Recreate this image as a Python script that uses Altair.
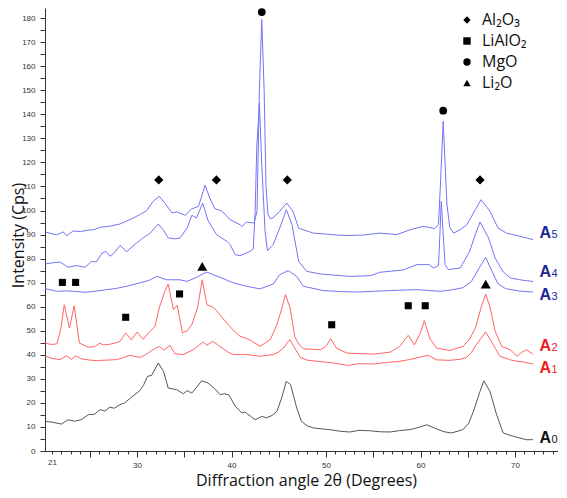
import altair as alt
import pandas as pd

# ---------------- data ----------------
A0_x = [20.3, 21.0, 22.0, 22.7, 23.4, 24.1, 24.85, 25.5, 26.1, 26.6, 27.1, 27.6, 28.2, 28.7, 29.3, 30.3, 30.7,
        31.1, 31.55, 32.25, 32.8, 33.3, 33.8, 34.2, 34.9, 35.3, 35.8, 36.3, 36.85, 37.5, 38.2, 38.8, 39.2, 39.7,
        40.4, 41.1, 41.4, 42.0, 42.5, 43.2, 43.7, 44.3, 44.8, 45.3, 45.8, 46.25, 46.9, 47.4, 48.0, 48.65, 49.5,
        50.4, 51.5, 52.5, 53.5, 54.7, 55.7, 56.8, 57.8, 58.9, 59.8, 60.65, 61.7, 62.5, 63.3, 64.5, 65.1, 65.6,
        66.3, 66.7, 67.35, 68.05, 68.75, 69.5, 70.2, 71.2, 71.9]
A0_y = [12.3, 12.0, 11.2, 13.0, 12.4, 13.0, 15.1, 15.3, 17.2, 16.6, 18.2, 17.8, 19.3, 20.0, 22.0, 25.1, 27.5,
        31.0, 31.5, 36.6, 33.1, 26.2, 25.8, 25.5, 23.8, 25.1, 24.1, 26.5, 29.2, 28.3, 26.0, 23.4, 23.8, 23.4,
        18.6, 15.8, 16.2, 14.5, 13.0, 14.4, 13.8, 14.8, 16.5, 22.0, 29.0, 27.6, 17.9, 12.3, 10.5, 9.6, 9.2,
        8.9, 8.2, 7.9, 8.6, 8.4, 8.0, 7.9, 8.5, 8.9, 9.8, 10.9, 9.2, 8.0, 7.5, 8.9, 11.5, 16.5,
        24.8, 29.2, 24.8, 15.1, 7.5, 6.5, 5.7, 4.7, 4.7]

A1_x = [20.3, 20.9, 21.85, 22.55, 23.1, 23.45, 24.15, 25.0, 25.7, 26.8, 27.85, 28.6, 29.25, 30.3, 30.9, 31.4,
        32.0, 32.4, 32.8, 33.5, 34.0, 34.9, 35.95, 36.5, 37.0, 37.4, 38.0, 38.5, 39.0, 39.6, 40.2, 41.6, 43.0,
        44.4, 45.0, 45.5, 46.15, 46.7, 47.25, 48.0, 49.0, 50.8, 51.6, 52.4, 53.5, 55.0, 56.5, 57.8, 58.8, 59.6,
        60.8, 61.7, 63.1, 64.3, 64.9, 65.4, 65.9, 66.9, 67.7, 68.4, 69.5, 70.2, 70.9, 71.9]
A1_y = [39.4, 38.6, 38.0, 39.6, 38.0, 39.6, 38.3, 37.8, 37.6, 37.8, 38.0, 38.9, 39.8, 38.9, 40.0, 41.4,
        42.8, 43.5, 41.9, 43.9, 40.5, 40.1, 42.1, 43.8, 45.3, 44.0, 45.6, 44.3, 42.8, 41.2, 40.1, 40.1, 39.4,
        40.1, 41.2, 42.8, 46.3, 42.8, 39.0, 37.8, 37.3, 36.6, 36.0, 35.6, 36.3, 36.2, 36.8, 37.3, 38.0, 38.7,
        39.8, 37.9, 37.7, 38.2, 39.0, 41.0, 44.2, 49.5, 44.2, 39.4, 37.9, 37.3, 37.0, 36.2]

A2_x = [20.3, 20.9, 21.5, 21.9, 22.3, 22.85, 23.35, 23.9, 24.85, 25.5, 26.1, 26.4, 27.0, 27.7, 28.2, 28.8, 29.4,
        30.0, 30.65, 31.3, 31.9, 32.35, 32.9, 33.3, 33.85, 34.25, 34.8, 35.3, 35.8, 36.4, 36.9, 37.4, 38.1,
        38.8, 39.5, 40.2, 40.9, 41.95, 43.0, 44.1, 44.8, 45.3, 45.7, 46.2, 46.7, 47.1, 47.6, 49.4, 50.0, 50.5,
        51.1, 52.2, 53.5, 55.0, 56.8, 57.8, 58.7, 59.35, 60.0, 60.4, 61.0, 61.7, 63.1, 64.5, 65.2, 65.8, 66.5,
        66.9, 67.35, 67.9, 68.6, 69.5, 70.2, 70.7, 71.2, 71.9]
A2_y = [44.9, 44.3, 44.5, 50.0, 60.8, 51.1, 60.4, 44.9, 43.1, 43.4, 44.9, 44.1, 44.3, 44.9, 45.6, 49.1, 46.2,
        49.5, 46.4, 49.5, 51.8, 59.5, 66.0, 69.4, 58.8, 60.6, 49.1, 50.0, 52.5, 59.5, 71.2, 60.8, 59.7,
        56.5, 53.2, 50.2, 47.7, 46.2, 43.5, 46.3, 52.5, 59.0, 65.0, 59.5, 47.5, 44.5, 42.5, 42.1, 43.5, 46.7,
        42.8, 40.7, 40.5, 40.3, 41.1, 43.5, 48.1, 44.1, 49.1, 54.2, 46.7, 42.8, 41.8, 43.5, 46.5, 51.1, 60.8,
        65.3, 59.9, 49.8, 43.5, 42.1, 39.4, 41.0, 42.1, 40.3]

A3_x = [20.3, 21.5, 22.5, 23.25, 24.5, 25.5, 26.8, 27.8, 28.9, 30.3, 31.3, 32.1, 33.1, 34.55, 35.3, 36.3, 36.9,
        37.4, 38.1, 38.8, 40.2, 41.6, 43.0, 44.4, 45.1, 46.0, 46.9, 47.6, 49.7, 51.5, 53.25, 55.0, 56.8, 58.2,
        59.6, 61.0, 62.1, 63.3, 64.5, 65.4, 66.2, 66.9, 67.6, 68.2, 69.0, 70.5, 71.9]
A3_y = [67.5, 66.4, 66.6, 66.4, 66.0, 66.4, 67.1, 67.6, 68.5, 69.9, 71.0, 72.6, 71.2, 71.2, 70.5, 72.2, 73.5,
        74.4, 73.2, 72.2, 69.9, 68.5, 67.4, 69.4, 73.3, 75.0, 72.6, 68.5, 66.7, 66.3, 66.1, 66.4, 66.7, 66.9,
        67.1, 66.7, 66.4, 67.0, 67.9, 70.6, 76.0, 80.5, 74.5, 69.5, 67.5, 66.5, 66.1]

A4_x = [20.3, 21.0, 21.85, 22.7, 23.6, 24.5, 25.2, 25.7, 26.3, 26.7, 27.15, 27.5, 28.2, 28.9, 29.95, 30.65,
        31.4, 32.25, 32.8, 33.3, 34.0, 34.55, 35.3, 35.8, 36.3, 36.95, 37.5, 38.4, 39.5, 39.85, 40.4, 40.9,
        41.95, 42.3, 42.5, 42.67, 42.95, 43.2, 43.55, 43.8, 44.4, 45.1, 45.8, 46.4, 47.1, 47.95, 49.4, 50.4,
        52.5, 54.7, 55.7, 58.2, 59.6, 60.9, 61.35, 61.9, 62.05, 62.2, 62.4, 62.6, 62.95, 64.2, 65.2, 65.8,
        66.3, 67.2, 67.9, 68.75, 69.5, 70.5, 71.2, 71.9]
A4_y = [77.8, 78.2, 78.6, 76.4, 77.1, 76.4, 78.9, 78.6, 82.3, 83.0, 81.0, 82.0, 85.5, 82.9, 86.5, 88.6,
        90.6, 94.4, 91.8, 88.6, 88.2, 88.6, 92.7, 98.0, 96.9, 103.1, 96.0, 90.0, 87.2, 85.8, 81.6, 81.2,
        83.0, 84.0, 99.7, 126.0, 144.7, 119.0, 91.4, 83.3, 85.8, 92.7, 100.3, 94.1, 78.9, 74.7, 73.6, 73.3,
        72.6, 72.9, 74.3, 75.3, 77.5, 77.5, 76.1, 77.0, 90.0, 103.8, 90.0, 77.5, 75.4, 76.1, 83.0, 90.0,
        95.2, 88.6, 80.2, 74.5, 72.0, 71.2, 70.8, 70.5]

A5_x = [20.3, 21.0, 21.5, 22.2, 22.55, 23.25, 24.0, 24.7, 25.4, 26.1, 27.15, 28.2, 29.25, 30.3, 31.0, 31.7,
        32.35, 32.95, 33.7, 34.2, 35.1, 35.8, 36.5, 37.2, 37.7, 38.25, 38.95, 39.85, 40.9, 41.1, 41.6, 42.4,
        42.7, 42.95, 43.2, 43.45, 43.65, 43.85, 44.1, 44.4, 45.1, 45.85, 46.5, 47.1, 48.65, 50.0, 51.1, 52.5,
        54.0, 55.7, 57.5, 58.9, 60.3, 61.5, 61.9, 62.1, 62.4, 62.65, 62.8, 63.1, 63.5, 64.2, 64.9, 65.8, 66.4,
        67.35, 68.2, 69.1, 70.5, 71.3, 71.9]
A5_y = [91.1, 90.3, 89.9, 91.1, 89.5, 91.5, 91.2, 91.8, 92.0, 93.0, 93.5, 94.4, 96.2, 98.3, 99.9, 103.8,
        105.9, 103.0, 99.0, 99.4, 98.0, 100.7, 101.7, 110.5, 105.2, 100.7, 99.9, 96.2, 94.1, 93.4, 95.2, 94.8,
        100.0, 150.0, 179.4, 150.0, 110.0, 98.5, 96.5, 97.0, 99.7, 103.1, 99.7, 92.7, 90.6, 90.2, 89.8, 89.6,
        89.8, 90.6, 90.0, 92.0, 93.4, 92.5, 94.1, 110.0, 137.1, 115.0, 102.4, 93.0, 90.6, 92.0, 94.1, 100.3, 104.5,
        99.7, 92.7, 90.6, 89.3, 88.5, 87.9]

series_names = ["A0", "A1", "A2", "A3", "A4", "A5"]
series_colors = ["#555555", "#ff6464", "#ff6464", "#7474f6", "#7474f6", "#7474f6"]

# phase markers
phase_names = ["Al₂O₃", "LiAlO₂", "MgO", "Li₂O"]
phase_shapes = ["diamond", "square", "circle", "triangle-up"]
phase_sizes = [85, 50, 60, 100]
marker_phase = ["Al₂O₃", "Al₂O₃", "Al₂O₃", "Al₂O₃",
                "LiAlO₂", "LiAlO₂", "LiAlO₂", "LiAlO₂", "LiAlO₂", "LiAlO₂", "LiAlO₂",
                "MgO", "MgO",
                "Li₂O", "Li₂O"]
marker_x = [32.3, 38.4, 45.9, 66.3,
            22.1, 23.5, 28.8, 34.5, 50.6, 58.7, 60.5,
            43.2, 62.4,
            36.9, 66.9]
marker_y = [112.7, 112.7, 112.7, 112.7,
            70.1, 70.1, 55.6, 65.3, 52.5, 60.4, 60.4,
            182.5, 141.5,
            76.8, 69.4]

# curve labels (A + subscript)
label_letters = ["A", "A", "A", "A", "A", "A"]
label_digits = ["5", "4", "3", "2", "1", "0"]
label_x = [72.6, 72.6, 72.6, 72.6, 72.6, 72.6]
label_y = [88.6, 72.3, 62.8, 41.7, 32.4, 3.3]
label_colors = ["#1c2796", "#1c2796", "#1c2796", "#ee1c1c", "#ee1c1c", "#111111"]

x_ticks = list(range(21, 75))
x_tick_labels = [21, 30, 40, 50, 60, 70]
y_ticks = list(range(0, 185, 5))

# ---------------- tables ----------------
series_data = {"A0": (A0_x, A0_y), "A1": (A1_x, A1_y), "A2": (A2_x, A2_y),
               "A3": (A3_x, A3_y), "A4": (A4_x, A4_y), "A5": (A5_x, A5_y)}
rows = []
for name in series_names:
    xs, ys = series_data[name]
    for i, (xv, yv) in enumerate(zip(xs, ys)):
        rows.append({"series": name, "x": xv, "y": yv, "order": i})
lines_df = pd.DataFrame(rows)

markers_df = pd.DataFrame({"phase": marker_phase, "x": marker_x, "y": marker_y})
labels_df = pd.DataFrame({"letter": label_letters, "digit": label_digits, "x": label_x,
                          "y": label_y, "color": label_colors})

FONT = "Open Sans"
PLOT_H = 443
xscale = alt.Scale(domain=[20.26, 74.55], nice=False, zero=False)
yscale = alt.Scale(domain=[0, 184.2], nice=False, zero=False)

label_list = ",".join(str(v) for v in x_tick_labels)
x_axis = alt.Axis(
    values=x_ticks,
    labelExpr=f"indexof([{label_list}], datum.value) >= 0 ? datum.label : ''",
    labelOverlap=False, labelFlush=False, labelBound=False,
    grid=False,
    tickSize={"condition": {"test": "datum.value % 5 == 0", "value": 6}, "value": 3},
    tickColor="#333333", domainColor="#333333",
    labelFontSize=8, labelColor="#333333", labelPadding=4, labelFont="Liberation Sans",
    title="Diffraction angle 2θ (Degrees)", titleFont=FONT, titleFontSize=16,
    titleFontWeight="normal", titleColor="#111111",
    titleX=261, titleY=29, titleBaseline="middle", titleAnchor="middle",
)
y_axis = alt.Axis(
    values=y_ticks,
    labelExpr="datum.value % 10 == 0 ? datum.label : ''",
    labelOverlap=False, labelFlush=False, labelBound=False,
    grid=False, tickSize=5, tickColor="#333333", domainColor="#333333",
    labelFontSize=8, labelColor="#333333", labelPadding=5, labelFont="Liberation Sans",
    title="Intensity (Cps)", titleFont=FONT, titleFontSize=16, titleFontWeight="normal",
    titleColor="#111111", titleX=-27, titleY=227, titleBaseline="middle", titleAnchor="middle",
)

X = alt.X("x:Q", scale=xscale, axis=x_axis)
Y = alt.Y("y:Q", scale=yscale, axis=y_axis)

lines = alt.Chart(lines_df).mark_line(strokeWidth=1, clip=True).encode(
    x=X, y=Y,
    color=alt.Color("series:N", scale=alt.Scale(domain=series_names, range=series_colors), legend=None),
    detail="series:N",
    order="order:Q",
)

shape_scale = alt.Scale(domain=phase_names, range=phase_shapes)
phase_legend = alt.Legend(orient="none", legendX=414, legendY=4, title=None,
                          labelFont=FONT, labelFontSize=16, labelColor="#111111",
                          symbolFillColor="black", symbolStrokeColor="black", symbolSize=55,
                          rowPadding=5, labelOffset=7)

marker_layers = []
for name, size in zip(phase_names, phase_sizes):
    marker_layers.append(
        alt.Chart(markers_df).transform_filter(alt.datum.phase == name)
        .mark_point(filled=True, opacity=1, color="black", size=size)
        .encode(x=X, y=Y, shape=alt.Shape("phase:N", scale=shape_scale, legend=phase_legend))
    )

letters = alt.Chart(labels_df).mark_text(align="left", baseline="alphabetic", font="Liberation Sans",
                                         fontSize=16, fontWeight="bold").encode(
    x=X, y=Y,
    text="letter:N",
    color=alt.Color("color:N", scale=None),
)
digits = alt.Chart(labels_df).mark_text(align="left", baseline="alphabetic", font="Liberation Sans",
                                        fontSize=11, dx=12).encode(
    x=X, y=Y,
    text="digit:N",
    color=alt.Color("color:N", scale=None),
)

chart = alt.layer(lines, *marker_layers, letters, digits).properties(
    width=513, height=PLOT_H,
    padding={"left": 37, "top": 0, "right": 0, "bottom": 39},
    autosize=alt.AutoSizeParams(type="none"),
).configure(background="white").configure_view(stroke=None)

chart.save("out.html", embed_options={"renderer": "svg", "actions": False})
